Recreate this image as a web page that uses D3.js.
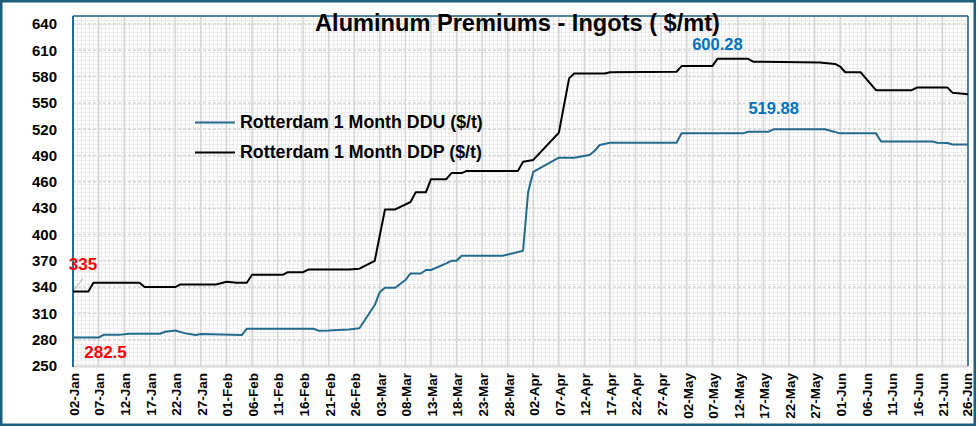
<!DOCTYPE html>
<html>
<head>
<meta charset="utf-8">
<script src="https://cdn.jsdelivr.net/npm/d3@7"></script>
<style>
  html, body { margin: 0; padding: 0; background: #fff; }
  svg { display: block; }
  text { font-family: "Liberation Sans", Arial, sans-serif; }
</style>
</head>
<body>
<svg id="chart" width="977" height="427"></svg>
<script>
// ---------- DATA ----------
const titleText = "Aluminum Premiums - Ingots ( $/mt)";
const seriesNames = ["Rotterdam 1 Month DDU ($/t)", "Rotterdam 1 Month DDP ($/t)"];

const dduDates = ["2025-01-02","2025-01-07","2025-01-08","2025-01-11","2025-01-13","2025-01-19","2025-01-20","2025-01-22","2025-01-24","2025-01-26","2025-01-27","2025-01-31","2025-02-04","2025-02-05","2025-02-18","2025-02-19","2025-02-21","2025-02-25","2025-02-27","2025-03-02","2025-03-03","2025-03-04","2025-03-06","2025-03-08","2025-03-09","2025-03-11","2025-03-12","2025-03-13","2025-03-16","2025-03-17","2025-03-18","2025-03-19","2025-03-27","2025-03-31","2025-04-01","2025-04-02","2025-04-07","2025-04-10","2025-04-13","2025-04-14","2025-04-15","2025-04-17","2025-04-30","2025-05-01","2025-05-13","2025-05-14","2025-05-18","2025-05-19","2025-05-29","2025-06-01","2025-06-08","2025-06-09","2025-06-19","2025-06-20","2025-06-22","2025-06-23","2025-06-26"];
const dduValues = [282.5,282.5,285.5,285.5,286.8,286.8,289,290.5,287.2,285.3,286.5,286,285.3,292.5,292.5,290.3,290.5,291.5,293,319.5,334.5,339.3,339.3,348,355.5,355.5,359.5,359.5,367,370,370,375.7,375.7,381.4,448.8,471.5,487.5,487.5,490.6,495.5,502,504.6,504.7,515.3,515.3,517.2,517.2,519.88,519.88,515.3,515.3,505.9,505.9,504.7,504.3,502.5,502.5];

const ddpDates = ["2025-01-02","2025-01-05","2025-01-06","2025-01-15","2025-01-16","2025-01-22","2025-01-23","2025-01-30","2025-02-01","2025-02-03","2025-02-05","2025-02-06","2025-02-12","2025-02-13","2025-02-16","2025-02-17","2025-02-25","2025-02-27","2025-03-02","2025-03-04","2025-03-06","2025-03-09","2025-03-10","2025-03-12","2025-03-13","2025-03-16","2025-03-17","2025-03-19","2025-03-20","2025-03-30","2025-03-31","2025-04-02","2025-04-07","2025-04-09","2025-04-10","2025-04-16","2025-04-17","2025-04-30","2025-05-01","2025-05-07","2025-05-08","2025-05-14","2025-05-15","2025-05-28","2025-05-31","2025-06-01","2025-06-02","2025-06-05","2025-06-08","2025-06-15","2025-06-16","2025-06-22","2025-06-23","2025-06-26"];
const ddpValues = [335,335,345,345,340,340,343,343,346,345,345,354,354,357,357,360,360,361,370,428.5,428.5,437,448,448,463,463,470,470,472.5,472.5,483,485,516,578,583.5,583.5,585,585.5,592,592,600.28,600.28,597,596,594.5,591.5,585,585,564.5,564.5,567.5,567.5,561.5,560];

const yTicks = [250,280,310,340,370,400,430,460,490,520,550,580,610,640];
const xStart = "2025-01-02", xEnd = "2025-06-26";

// annotations: [series, label, date, value]
const annotations = [
  ["ddp", "335", "2025-01-02", 335],
  ["ddu", "282.5", "2025-01-02", 282.5],
  ["ddp", "600.28", "2025-05-08", 600.28],
  ["ddu", "519.88", "2025-05-19", 519.88]
];

// ---------- LAYOUT ----------
const W = 977, H = 427;
const plot = { left: 73, right: 968, top: 16, bottom: 366 };
const C_BLUE = "#236a8c", C_BORDER = "#1d5f80", C_GRID = "#d6d6d6";

const parse = d3.timeParse("%Y-%m-%d");
const fmt = d3.timeFormat("%d-%b");

const x = d3.scaleTime().domain([parse(xStart), parse(xEnd)]).range([plot.left, plot.right]);
const y = d3.scaleLinear().domain([250, 640]).range([plot.bottom, 24]);

const svg = d3.select("#chart");

// pattern (fine grid)
const defs = svg.append("defs");
const pat = defs.append("pattern").attr("id", "fine").attr("patternUnits", "userSpaceOnUse")
  .attr("x", plot.left).attr("y", plot.top).attr("width", 4).attr("height", 4);
pat.append("rect").attr("width", 4).attr("height", 4).attr("fill", "#ffffff");
pat.append("rect").attr("x", 0).attr("y", 0).attr("width", 4).attr("height", 1).attr("fill", "#ececec");
pat.append("rect").attr("x", 0).attr("y", 0).attr("width", 1).attr("height", 4).attr("fill", "#ececec");

svg.append("rect").attr("width", W).attr("height", H).attr("fill", "#fff");
svg.append("rect").attr("x", plot.left).attr("y", plot.top)
  .attr("width", plot.right - plot.left).attr("height", plot.bottom - plot.top)
  .attr("fill", "url(#fine)");

// x ticks
const xTickDates = d3.timeDay.range(parse(xStart), d3.timeDay.offset(parse(xEnd), 1), 5);

// vertical gridlines
svg.append("g").selectAll("line").data(xTickDates).join("line")
  .attr("x1", d => x(d)).attr("x2", d => x(d))
  .attr("y1", plot.top).attr("y2", plot.bottom)
  .attr("stroke", C_GRID).attr("stroke-width", 1.5);

// horizontal gridlines (dashed)
svg.append("g").selectAll("line").data(yTicks.filter(v => v > 250)).join("line")
  .attr("x1", plot.left).attr("x2", plot.right)
  .attr("y1", d => y(d)).attr("y2", d => y(d))
  .attr("stroke", C_GRID).attr("stroke-width", 1.5).attr("stroke-dasharray", "3,2");

// x axis
const xAxis = d3.axisBottom(x).tickValues(xTickDates).tickFormat(fmt).tickSize(0);
const gx = svg.append("g").attr("transform", `translate(0,${plot.bottom})`).call(xAxis);
gx.select(".domain").attr("stroke", C_GRID).attr("stroke-width", 2);
gx.selectAll("text")
  .attr("transform", "rotate(-90)")
  .attr("text-anchor", "end")
  .attr("x", -7).attr("y", 0).attr("dy", "0.36em")
  .attr("dx", 0)
  .style("font-size", "13.5px").style("font-weight", "bold").attr("fill", "#000");
gx.selectAll(".tick").attr("transform", d => `translate(${Math.min(x(d) + 1, plot.right - 1)},0)`);

// y axis
const yAxis = d3.axisLeft(y).tickValues(yTicks).tickSize(0).tickPadding(16);
const gy = svg.append("g").attr("transform", `translate(${plot.left},0)`).call(yAxis);
gy.select(".domain").remove();
gy.selectAll("text").style("font-size", "15px").style("font-weight", "bold").attr("fill", "#000");

// plot borders
svg.append("line").attr("x1", plot.left).attr("x2", plot.right).attr("y1", plot.top).attr("y2", plot.top)
  .attr("stroke", C_BORDER).attr("stroke-width", 1.5);
svg.append("line").attr("x1", plot.right).attr("x2", plot.right).attr("y1", plot.top).attr("y2", plot.bottom)
  .attr("stroke", C_BORDER).attr("stroke-width", 1.5);
svg.append("line").attr("x1", plot.left).attr("x2", plot.left).attr("y1", plot.top).attr("y2", plot.bottom + 1)
  .attr("stroke", C_BLUE).attr("stroke-width", 2);

// series
const ddu = dduDates.map((d, i) => ({ date: parse(d), value: dduValues[i] }));
const ddp = ddpDates.map((d, i) => ({ date: parse(d), value: ddpValues[i] }));
const line = d3.line().x(d => x(d.date)).y(d => y(d.value));

svg.append("path").datum(ddu).attr("d", line).attr("fill", "none")
  .attr("stroke", C_BLUE).attr("stroke-width", 2).attr("stroke-linejoin", "round");
svg.append("path").datum(ddp).attr("d", line).attr("fill", "none")
  .attr("stroke", "#000").attr("stroke-width", 2).attr("stroke-linejoin", "round");

// fit text helper
function fit(sel, target, base) {
  const len = sel.node().getComputedTextLength();
  sel.style("font-size", (base * target / len) + "px");
}

// title
const title = svg.append("text").attr("x", 517.5).attr("y", 31).attr("text-anchor", "middle")
  .style("font-weight", "bold").style("font-size", "20px").attr("fill", "#000").text(titleText);
fit(title, 405, 20);

// legend
const legendColors = [C_BLUE, "#000"];
const legendY = [122.5, 152.5];
seriesNames.forEach((name, i) => {
  svg.append("line").attr("x1", 195).attr("x2", 235).attr("y1", legendY[i]).attr("y2", legendY[i])
    .attr("stroke", legendColors[i]).attr("stroke-width", 2);
  const t = svg.append("text").attr("x", 240).attr("y", legendY[i] + 5.5)
    .style("font-weight", "bold").style("font-size", "16px").attr("fill", "#000").text(name);
  fit(t, i === 0 ? 243 : 242, 16);
});

// annotations
const annStyle = {
  "335":    { color: "#ff0000", dx: 10, dy: -21.5, fs: 17 },
  "282.5":  { color: "#ff0000", dx: 32.5, dy: 20.5, fs: 17 },
  "600.28": { color: "#0070c0", dx: 0, dy: -8.5, fs: 16.5 },
  "519.88": { color: "#0070c0", dx: 0, dy: -15.5, fs: 16.5 }
};
annotations.forEach(([s, label, d, v]) => {
  const st = annStyle[label];
  svg.append("text").attr("x", x(parse(d)) + st.dx).attr("y", y(v) + st.dy)
    .attr("text-anchor", "middle").style("font-weight", "bold").style("font-size", st.fs + "px")
    .attr("fill", st.color).text(label);
});
// leader line for 335
svg.append("line")
  .attr("x1", x(parse("2025-01-02")) + 1).attr("y1", y(335) - 1.5)
  .attr("x2", x(parse("2025-01-02")) + 10).attr("y2", y(335) - 13)
  .attr("stroke", "#a6a6a6").attr("stroke-width", 1);

// outer border
svg.append("rect").attr("x", 1.25).attr("y", 1.25).attr("width", W - 3.5).attr("height", H - 3.5)
  .attr("fill", "none").attr("stroke", C_BORDER).attr("stroke-width", 2.5);
</script>
</body>
</html>
